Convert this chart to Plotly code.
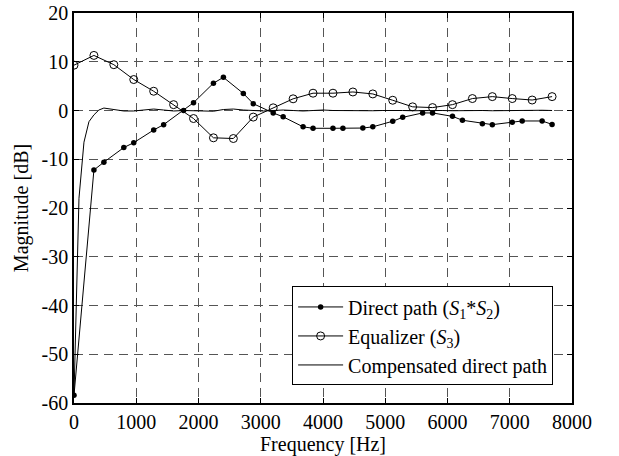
import plotly.graph_objects as go

# Direct path (S1*S2)
direct_f = [0, 320, 480, 800, 960, 1280, 1440, 1760, 1920, 2240, 2400, 2720, 2880,
            3200, 3360, 3680, 3840, 4160, 4320, 4640, 4800, 5120, 5280, 5600, 5760,
            6080, 6240, 6560, 6720, 7040, 7200, 7520, 7680]
direct_db = [-58.4, -12.2, -10.6, -7.6, -6.6, -4.0, -2.9, 0.0, 1.6, 5.6, 6.8, 3.5, 1.4,
             -0.5, -1.3, -3.35, -3.65, -3.65, -3.65, -3.6, -3.35, -2.2, -1.4, -0.5, -0.5,
             -1.2, -2.0, -2.7, -2.9, -2.4, -2.15, -2.15, -2.85]

# Equalizer (S3)
eq_f = [0, 320, 640, 960, 1280, 1600, 1920, 2240, 2560, 2880, 3200, 3520, 3840,
        4160, 4480, 4800, 5120, 5440, 5760, 6080, 6400, 6720, 7040, 7360, 7680]
eq_db = [9.3, 11.3, 9.4, 6.35, 3.95, 1.2, -1.65, -5.6, -5.75, -1.35, 0.55, 2.4, 3.55,
         3.55, 3.8, 3.4, 2.1, 0.75, 0.6, 1.2, 2.45, 2.85, 2.45, 2.15, 2.85]

# Compensated direct path
comp_f = [0, 80, 160, 240, 320, 400, 480, 560, 640, 800, 960, 1120, 1280, 1440, 1600,
          1760, 1920, 2080, 2240, 2400, 2560, 2720, 2880, 3040, 3200, 3360, 3520, 3680,
          3840, 4000, 4160, 4320, 4480, 4640, 4800, 4960, 5120, 5280, 5440, 5600, 5760,
          5920, 6080, 6240, 6400, 6560, 6720, 6880, 7040, 7200, 7360, 7520, 7680]
comp_db = [-58.4, -18.0, -6.5, -2.3, -0.9, 0.1, 0.5, 0.35, 0.3, -0.1, -0.1, 0.1, 0.3, 0.1,
           -0.1, 0.0, 0.0, -0.1, -0.15, 0.2, 0.3, 0.1, 0.0, -0.1, 0.0, 0.1, 0.0, -0.1,
           0.0, 0.1, 0.0, -0.05, 0.05, 0.0, -0.05, 0.0, 0.05, 0.0, -0.05, 0.0, 0.05,
           0.0, -0.05, 0.0, 0.05, 0.0, -0.05, 0.0, 0.05, 0.0, 0.0, 0.05, 0.0]

x_ticks = [0, 1000, 2000, 3000, 4000, 5000, 6000, 7000, 8000]
x_tick_labels = ["0", "1000", "2000", "3000", "4000", "5000", "6000", "7000", "8000"]
y_ticks = [-60, -50, -40, -30, -20, -10, 0, 10, 20]
y_tick_labels = ["-60", "-50", "-40", "-30", "-20", "-10", "0", "10", "20"]

FONT = "Liberation Serif, Times New Roman, serif"
FS = 20

fig = go.Figure()
fig.add_trace(go.Scatter(
    x=comp_f, y=comp_db, mode="lines",
    name="Compensated direct path",
    line=dict(color="black", width=1),
    legendgroup="c", legendrank=3,
))
fig.add_trace(go.Scatter(
    x=direct_f, y=direct_db, mode="lines+markers",
    name="Direct path (<i>S</i><sub>1</sub>*<i>S</i><sub>2</sub>)",
    line=dict(color="black", width=1),
    marker=dict(symbol="circle", size=5.5, color="black"),
    legendgroup="a", legendrank=1,
))
fig.add_trace(go.Scatter(
    x=eq_f, y=eq_db, mode="lines+markers",
    name="Equalizer (<i>S</i><sub>3</sub>)",
    line=dict(color="black", width=1),
    marker=dict(symbol="circle-open", size=8, color="black", line=dict(width=1)),
    legendgroup="b", legendrank=2,
))

axis_common = dict(
    showline=True, linecolor="black", linewidth=1.5, mirror="ticks",
    ticks="inside", ticklen=5, tickcolor="black", tickwidth=1,
    showgrid=True, gridcolor="#555555", gridwidth=1, griddash="9px,6px",
    zeroline=False, automargin=False,
    tickfont=dict(family=FONT, size=FS, color="black"),
)

fig.update_xaxes(range=[0, 8000], tickvals=x_ticks, ticktext=x_tick_labels,
                 title=dict(text="Frequency [Hz]", font=dict(family=FONT, size=FS, color="black"),
                            standoff=1),
                 **axis_common)
fig.update_yaxes(range=[-60, 20], tickvals=y_ticks, ticktext=y_tick_labels,
                 title=dict(text="Magnitude [dB]", font=dict(family=FONT, size=FS, color="black"),
                            standoff=8),
                 **axis_common)

fig.update_layout(
    width=619, height=456,
    margin=dict(l=73.5, r=46.5, t=12.7, b=53, pad=0),
    plot_bgcolor="white", paper_bgcolor="white",
    font=dict(family=FONT, size=FS, color="black"),
    showlegend=True,
    legend=dict(
        x=0.438, y=0.045, xanchor="left", yanchor="bottom",
        bgcolor="white", bordercolor="black", borderwidth=1,
        font=dict(family=FONT, size=FS, color="black"),
        tracegroupgap=3, itemwidth=45, traceorder="normal",
    ),
)

fig.write_html("out.html", config={"displayModeBar": False},
               post_script="document.body.style.margin='0px';")
